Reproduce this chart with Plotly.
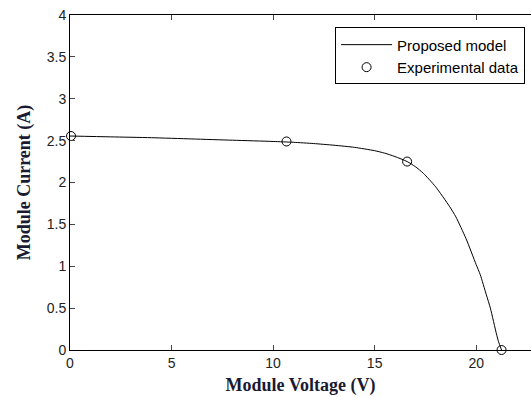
import plotly.graph_objects as go

# Model curve
model_v = [0, 2, 4, 6, 8, 10, 11, 12, 13, 14, 15, 15.5, 16, 16.6, 17, 17.4, 18, 18.7, 19, 19.5, 20, 20.2, 20.5, 20.7, 21, 21.1, 21.25]
model_i = [2.555, 2.545, 2.535, 2.52, 2.505, 2.49, 2.48, 2.465, 2.445, 2.42, 2.38, 2.35, 2.31, 2.25, 2.19, 2.11, 1.95, 1.71, 1.59, 1.33, 1.02, 0.9, 0.66, 0.5, 0.19, 0.1, 0.0]

# Experimental data
exp_v = [0.05, 10.66, 16.6, 21.25]
exp_i = [2.555, 2.49, 2.25, 0.0]

x_ticks = [0, 5, 10, 15, 20]
y_ticks = [0, 0.5, 1, 1.5, 2, 2.5, 3, 3.5, 4]

fig = go.Figure()
fig.add_trace(go.Scatter(x=model_v, y=model_i, mode="lines", name="Proposed model",
                         line=dict(color="black", width=1), line_shape="spline",
                         line_smoothing=0.6, cliponaxis=False))
fig.add_trace(go.Scatter(x=exp_v, y=exp_i, mode="markers", name="Experimental data",
                         marker=dict(symbol="circle-open", size=9, color="black", line=dict(width=1)),
                         cliponaxis=False))

tickfont = dict(family="Liberation Sans, Arial", size=14, color="#222222")
titlefont = dict(family="Liberation Serif, Times New Roman", size=18, color="#1a1a33")

fig.update_layout(
    width=531, height=397,
    margin=dict(l=70, r=0, t=15, b=47),
    paper_bgcolor="white", plot_bgcolor="white",
    showlegend=True,
    legend=dict(x=0.575, y=0.963, xanchor="left", yanchor="top",
                bordercolor="black", borderwidth=1, bgcolor="white",
                font=dict(family="Liberation Sans, Arial", size=15, color="black"),
                tracegroupgap=0, itemwidth=51),
    xaxis=dict(range=[0, 22.7], tickvals=x_ticks, ticks="inside", ticklen=5,
               showline=True, linecolor="black", linewidth=1, mirror="ticks",
               showgrid=False, zeroline=False, tickfont=tickfont,
               title=dict(text="<b>Module Voltage (V)</b>", font=titlefont, standoff=8)),
    yaxis=dict(range=[0, 4], tickvals=y_ticks, ticks="inside", ticklen=5,
               showline=True, linecolor="black", linewidth=1, mirror=False,
               showgrid=False, zeroline=False, tickfont=tickfont,
               title=dict(text="<b>Module Current (A)</b>", font=titlefont, standoff=11)),
)

fig.write_html("out.html")
